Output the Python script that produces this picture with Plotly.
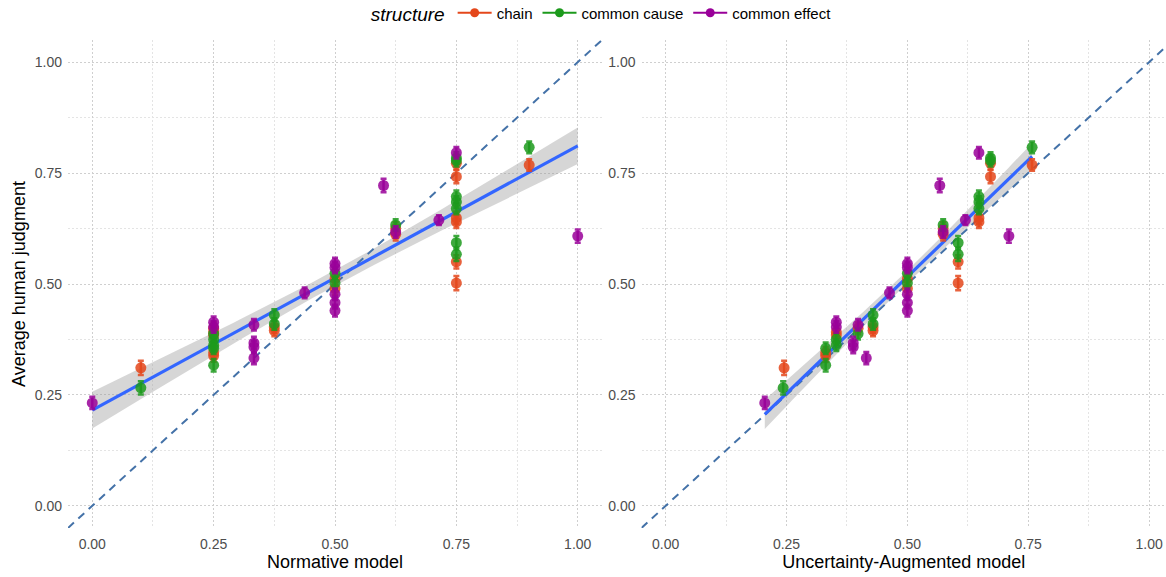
import numpy as np
import plotly.graph_objects as go

# ---------------- data ----------------
structures = ["chain", "common cause", "common effect"]
colors = {"chain": "#E4471B", "common cause": "#1C9A1C", "common effect": "#990099"}

chain_y = [0.311, 0.392, 0.385, 0.400, 0.345, 0.338, 0.403, 0.395, 0.512, 0.490,
           0.625, 0.612, 0.772, 0.742, 0.649, 0.640, 0.550, 0.502, 0.768]
chain_err = [0.016, 0.013, 0.013, 0.013, 0.013, 0.013, 0.013, 0.013, 0.014, 0.014,
             0.014, 0.014, 0.014, 0.015, 0.014, 0.014, 0.015, 0.016, 0.013]
chain_norm = [0.10, 0.25, 0.25, 0.25, 0.25, 0.25, 0.375, 0.375, 0.5, 0.5,
              0.625, 0.625, 0.75, 0.75, 0.75, 0.75, 0.75, 0.75, 0.9]
chain_ua = [0.245, 0.353, 0.353, 0.398, 0.331, 0.331, 0.429, 0.429, 0.5, 0.5,
            0.574, 0.574, 0.672, 0.672, 0.648, 0.648, 0.605, 0.605, 0.758]

cause_y = [0.266, 0.375, 0.362, 0.388, 0.355, 0.317, 0.430, 0.410, 0.524, 0.502,
           0.633, 0.784, 0.778, 0.697, 0.685, 0.670, 0.593, 0.567, 0.808]
cause_err = [0.015, 0.013, 0.013, 0.013, 0.013, 0.014, 0.013, 0.013, 0.013, 0.013,
             0.013, 0.013, 0.013, 0.014, 0.013, 0.013, 0.015, 0.015, 0.013]
cause_norm = [0.10, 0.25, 0.25, 0.25, 0.25, 0.25, 0.375, 0.375, 0.5, 0.5,
              0.625, 0.75, 0.75, 0.75, 0.75, 0.75, 0.75, 0.75, 0.9]
cause_ua = [0.243, 0.353, 0.353, 0.398, 0.331, 0.331, 0.429, 0.429, 0.5, 0.5,
            0.574, 0.672, 0.672, 0.648, 0.648, 0.648, 0.605, 0.605, 0.758]

effect_y = [0.232, 0.414, 0.403, 0.408, 0.367, 0.358, 0.333, 0.480, 0.546, 0.537,
            0.477, 0.458, 0.440, 0.722, 0.617, 0.644, 0.796, 0.608]
effect_err = [0.014, 0.013, 0.013, 0.013, 0.014, 0.014, 0.014, 0.012, 0.013, 0.013,
              0.013, 0.013, 0.013, 0.015, 0.013, 0.011, 0.013, 0.015]
effect_norm = [0.0, 0.25, 0.25, 0.333, 0.333, 0.333, 0.333, 0.4375, 0.5, 0.5,
               0.5, 0.5, 0.5, 0.6, 0.625, 0.714, 0.75, 1.0]
effect_ua = [0.205, 0.353, 0.353, 0.398, 0.388, 0.388, 0.415, 0.463, 0.5, 0.5,
             0.5, 0.5, 0.5, 0.567, 0.574, 0.62, 0.648, 0.71]

tick_vals = [0.0, 0.25, 0.5, 0.75, 1.0]
tick_text = ["0.00", "0.25", "0.50", "0.75", "1.00"]
axis_range = [-0.05, 1.05]
x2_range = [-0.05, 1.035]

series = {
    "chain": (chain_norm, chain_ua, chain_y, chain_err),
    "common cause": (cause_norm, cause_ua, cause_y, cause_err),
    "common effect": (effect_norm, effect_ua, effect_y, effect_err),
}

# ---------------- figure ----------------
fig = go.Figure()

def hex_rgba(h, a):
    h = h.lstrip("#")
    return "rgba(%d,%d,%d,%s)" % (int(h[0:2], 16), int(h[2:4], 16), int(h[4:6], 16), a)

all_y = np.array(chain_y + cause_y + effect_y)
panels = [
    ("x", "y", np.array(chain_norm + cause_norm + effect_norm)),
    ("x2", "y2", np.array(chain_ua + cause_ua + effect_ua)),
]

for xa, ya, xs in panels:
    n = len(xs)
    slope, inter = np.polyfit(xs, all_y, 1)
    resid = all_y - (inter + slope * xs)
    s = np.sqrt(np.sum(resid ** 2) / (n - 2))
    xbar = xs.mean()
    sxx = np.sum((xs - xbar) ** 2)
    t = 2.006
    grid = np.linspace(xs.min(), xs.max(), 80)
    fit = inter + slope * grid
    se = s * np.sqrt(1.0 / n + (grid - xbar) ** 2 / sxx)
    lo, hi = fit - t * se, fit + t * se
    fig.add_trace(go.Scatter(x=np.concatenate([grid, grid[::-1]]),
                             y=np.concatenate([hi, lo[::-1]]),
                             fill="toself", fillcolor="rgba(153,153,153,0.4)",
                             line=dict(width=0), mode="lines", hoverinfo="skip",
                             showlegend=False, xaxis=xa, yaxis=ya))
    # identity reference line
    fig.add_trace(go.Scatter(x=axis_range, y=axis_range, mode="lines",
                             line=dict(color="#4472A8", width=2, dash="8px,6px"),
                             showlegend=False, hoverinfo="skip", xaxis=xa, yaxis=ya))
    fig.add_trace(go.Scatter(x=grid, y=fit, mode="lines",
                             line=dict(color="#3366FF", width=3.2),
                             showlegend=False, hoverinfo="skip", xaxis=xa, yaxis=ya))

for name in structures:
    xn, xu, yy, ee = series[name]
    c = colors[name]
    for xa, ya, xs in (("x", "y", xn), ("x2", "y2", xu)):
        fig.add_trace(go.Scatter(
            x=xs, y=yy, mode="markers",
            marker=dict(color=c, size=11, opacity=0.85, line=dict(width=0)),
            error_y=dict(type="data", array=ee, visible=True, color=hex_rgba(c, 0.85),
                         thickness=2.5, width=3),
            showlegend=False, name=name, xaxis=xa, yaxis=ya))

# legend entries (point + line glyph)
for name in structures:
    fig.add_trace(go.Scatter(x=[None], y=[None], mode="lines+markers", name=name,
                             line=dict(color=colors[name], width=2),
                             marker=dict(color=colors[name], size=9),
                             showlegend=True))

grid_major = "#CFCFCF"
grid_minor = "#E4E4E4"
tickfont = dict(family="Liberation Sans, Arial, sans-serif", size=14, color="#4D4D4D")
titlefont = dict(family="Liberation Sans, Arial, sans-serif", size=18, color="#000000")

def axis_common(rng):
    return dict(range=rng, tickvals=tick_vals, ticktext=tick_text, showgrid=True,
                gridcolor=grid_major, griddash="2px,2px", gridwidth=1, zeroline=False,
                showline=False, ticks="", tickfont=tickfont, automargin=False,
                minor=dict(dtick=0.125, tick0=0.125, showgrid=True, gridcolor=grid_minor,
                           griddash="2px,2px", gridwidth=1, ticks=""))

L, R, T, B = 68, 0, 40, 49
W, H = 1166, 577
pw = W - L - R
left_dom = [0, (602 - L) / pw]
right_dom = [(641.5 - L) / pw, 1.0]

fig.update_layout(
    width=W, height=H,
    margin=dict(l=L, r=R, t=T, b=B, pad=0, autoexpand=False),
    paper_bgcolor="white", plot_bgcolor="white",
    font=dict(family="Liberation Sans, Arial, sans-serif", color="#000000"),
    xaxis=dict(domain=left_dom, anchor="y", ticklabelstandoff=6,
               title=dict(text="Normative model", font=titlefont, standoff=4),
               **axis_common(axis_range)),
    yaxis=dict(domain=[0, 1], anchor="x", ticklabelstandoff=5,
               title=dict(text="Average human judgment", font=titlefont, standoff=4),
               **axis_common(axis_range)),
    xaxis2=dict(domain=right_dom, anchor="y2", ticklabelstandoff=6,
                title=dict(text="Uncertainty-Augmented model", font=titlefont, standoff=4),
                **axis_common(x2_range)),
    yaxis2=dict(domain=[0, 1], anchor="x2", ticklabelstandoff=5,
                **axis_common(axis_range)),
    legend=dict(orientation="h", x=0.487, xanchor="center",
                yref="container", y=1 - 14 / 577, yanchor="middle",
                title=dict(text="<i>structure</i>", font=dict(size=19, color="#000000")),
                font=dict(size=15, color="#000000"), bgcolor="rgba(0,0,0,0)",
                itemwidth=34),
    showlegend=True,
)

fig.write_html("out.html", config={"displayModeBar": False},
               post_script="document.body.style.margin='0';document.body.style.overflow='hidden';")
